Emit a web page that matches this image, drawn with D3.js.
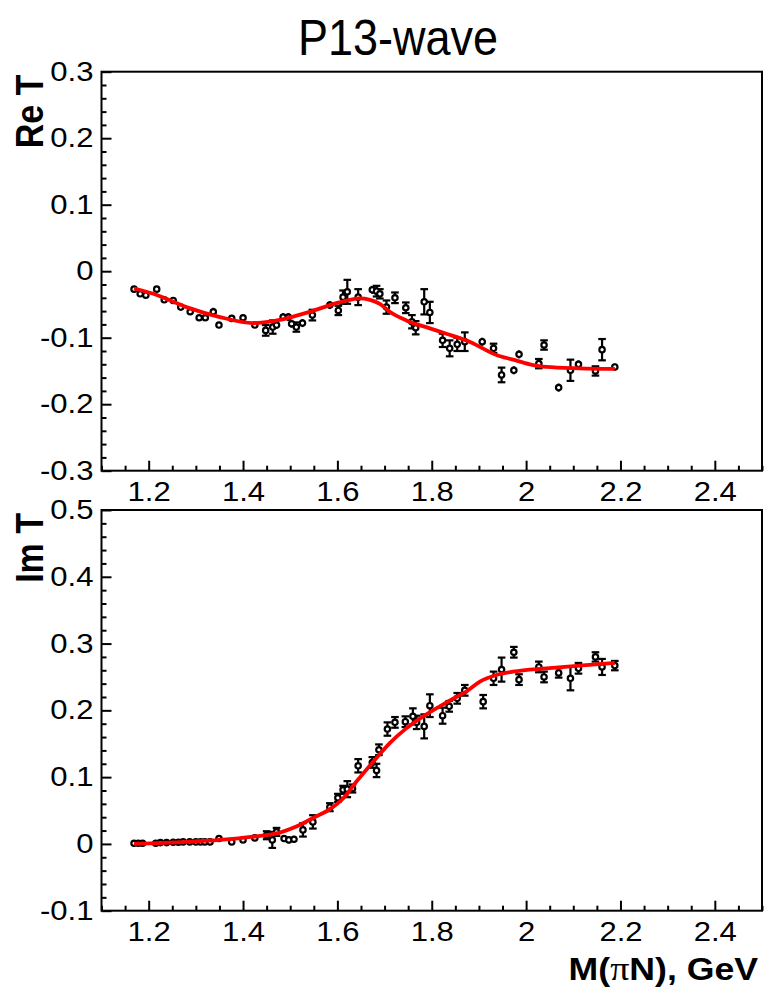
<!DOCTYPE html>
<html>
<head>
<meta charset="utf-8">
<script src="https://cdn.jsdelivr.net/npm/d3@7"></script>
<style>
  body { margin: 0; background: #fff; }
  svg { display: block; font-family: "Liberation Sans", Arial, sans-serif; }
</style>
</head>
<body>
<div class="canvas"></div>
<script>
// ---- data ----
// Re T panel
const reMass = [1.169,1.182,1.194,1.217,1.233,1.252,1.268,1.288,1.307,1.320,1.337,1.349,1.376,1.400,1.425,1.448,
  1.463,1.471,1.485,1.496,1.503,1.513,1.526,1.547,1.584,1.602,1.612,1.621,1.644,1.674,1.683,1.690,1.704,1.722,
  1.745,1.758,1.766,1.784,1.796,1.823,1.838,1.854,1.870,1.907,1.931,1.948,1.974,1.985,2.027,2.038,2.069,2.094,
  2.111,2.147,2.161,2.188];
const reVal = [-0.027,-0.034,-0.036,-0.027,-0.043,-0.044,-0.054,-0.061,-0.070,-0.070,-0.061,-0.081,-0.071,-0.070,
  -0.081,-0.089,-0.084,-0.081,-0.069,-0.069,-0.079,-0.084,-0.078,-0.066,-0.051,-0.059,-0.039,-0.031,-0.039,-0.028,
  -0.030,-0.034,-0.054,-0.040,-0.055,-0.076,-0.085,-0.046,-0.062,-0.104,-0.116,-0.110,-0.106,-0.106,-0.116,-0.156,
  -0.149,-0.125,-0.139,-0.111,-0.175,-0.149,-0.140,-0.150,-0.118,-0.144];
const reErr = [0.003,0.003,0.003,0.003,0.003,0.003,0.003,0.003,0.003,0.003,0.006,0.004,0.004,0.004,0.004,0.008,
  0.010,0.006,0.006,0.006,0.006,0.007,0.006,0.008,0.006,0.007,0.010,0.018,0.012,0.006,0.008,0.007,0.010,0.008,
  0.008,0.010,0.010,0.019,0.016,0.010,0.012,0.010,0.014,0.006,0.007,0.011,0.006,0.006,0.007,0.007,0.006,0.016,
  0.006,0.007,0.016,0.005];
const reFitMass = [1.169,1.210,1.280,1.351,1.421,1.457,1.492,1.542,1.598,1.626,1.647,1.669,1.690,1.711,1.746,
  1.796,1.831,1.880,1.937,1.972,2.008,2.043,2.113,2.188];
const reFitVal = [-0.026,-0.034,-0.054,-0.069,-0.078,-0.076,-0.071,-0.061,-0.048,-0.043,-0.041,-0.043,-0.049,
  -0.061,-0.074,-0.086,-0.094,-0.106,-0.126,-0.133,-0.140,-0.144,-0.146,-0.147];

// Im T panel
const imMass = [1.169,1.178,1.187,1.215,1.225,1.238,1.252,1.263,1.273,1.287,1.300,1.310,1.319,1.330,1.349,1.376,
  1.400,1.425,1.450,1.462,1.471,1.487,1.497,1.508,1.527,1.548,1.584,1.601,1.612,1.621,1.632,1.644,1.674,1.683,
  1.688,1.706,1.722,1.744,1.760,1.768,1.784,1.796,1.823,1.837,1.854,1.870,1.909,1.931,1.948,1.974,1.985,2.027,
  2.038,2.069,2.094,2.111,2.147,2.161,2.188];
const imVal = [0.001,0.001,0.001,0.001,0.002,0.002,0.0025,0.0025,0.003,0.003,0.003,0.003,0.003,0.003,0.008,0.003,
  0.006,0.009,0.013,0.006,0.018,0.008,0.006,0.007,0.021,0.033,0.055,0.069,0.081,0.082,0.083,0.117,0.122,0.110,
  0.141,0.172,0.182,0.183,0.191,0.182,0.176,0.207,0.192,0.206,0.218,0.230,0.213,0.248,0.261,0.287,0.246,0.265,
  0.250,0.256,0.248,0.263,0.280,0.265,0.267];
const imErr = [0.002,0.002,0.002,0.002,0.002,0.002,0.002,0.002,0.002,0.002,0.002,0.002,0.002,0.002,0.003,0.003,
  0.003,0.003,0.006,0.012,0.006,0.005,0.005,0.005,0.010,0.010,0.006,0.006,0.006,0.012,0.006,0.010,0.008,0.010,
  0.008,0.010,0.008,0.008,0.012,0.010,0.018,0.017,0.012,0.008,0.008,0.008,0.010,0.010,0.018,0.008,0.008,0.008,
  0.008,0.007,0.018,0.008,0.007,0.012,0.007];
const imFitMass = [1.169,1.280,1.351,1.422,1.478,1.513,1.549,1.584,1.612,1.640,1.676,1.711,1.746,1.782,1.817,
  1.852,1.873,1.902,1.937,1.972,2.043,2.113,2.188];
const imFitVal = [0.000,0.003,0.006,0.011,0.017,0.026,0.039,0.052,0.068,0.093,0.123,0.151,0.173,0.191,0.206,
  0.220,0.228,0.243,0.253,0.258,0.263,0.267,0.271];

// axes
const xTicks = [1.2,1.4,1.6,1.8,2,2.2,2.4];
const reTicks = [-0.3,-0.2,-0.1,0,0.1,0.2,0.3];
const imTicks = [-0.1,0,0.1,0.2,0.3,0.4,0.5];

// ---- drawing ----
const dims = {width: 765, height: 992, left: 101.5, right: 762};
const stretch = 1.15;   // labels in the picture are a bit wider than tall

const svg = d3.select('.canvas').append('svg')
  .attr('width', dims.width)
  .attr('height', dims.height);

const x = d3.scaleLinear().domain([1.1, 2.5]).range([dims.left, dims.right]);
const fmt = d => String(+d.toFixed(2));

svg.append('text')
  .attr('transform', `translate(398,55) scale(0.9,1)`)
  .attr('text-anchor', 'middle')
  .attr('font-size', 50)
  .text('P13-wave');

const drawPanel = (p) => {
  const y = d3.scaleLinear().domain(p.domain).range([p.bottom, p.top]);
  const g = svg.append('g');

  // minor ticks
  const yMinor = d3.range(p.domain[0], p.domain[1] + 1e-9, 0.02).filter(v => Math.abs(v * 10 - Math.round(v * 10)) > 1e-6);
  const xMinor = d3.range(1.1, 2.5 + 1e-9, 0.05).filter(v => Math.abs(v * 5 - Math.round(v * 5)) > 1e-6);

  g.append('g').attr('transform', `translate(${dims.left},0)`)
    .call(d3.axisLeft(y).tickValues(yMinor).tickSize(-5).tickFormat(''))
    .call(a => a.select('.domain').remove());
  g.append('g').attr('transform', `translate(0,${p.bottom})`)
    .call(d3.axisBottom(x).tickValues(xMinor).tickSize(-5).tickFormat(''))
    .call(a => a.select('.domain').remove());

  // major ticks + labels
  const yAxis = g.append('g').attr('transform', `translate(${dims.left},0)`)
    .call(d3.axisLeft(y).tickValues(p.ticks).tickSize(-10).tickPadding(7).tickFormat(fmt))
    .call(a => a.select('.domain').remove());
  const xAxis = g.append('g').attr('transform', `translate(0,${p.bottom})`)
    .call(d3.axisBottom(x).tickValues(xTicks).tickSize(-10).tickPadding(11).tickFormat(fmt))
    .call(a => a.select('.domain').remove());

  [yAxis, xAxis].forEach(a => {
    a.selectAll('text')
      .attr('font-size', 27)
      .attr('font-family', '"Liberation Sans", Arial, sans-serif')
      .attr('fill', '#000')
      .attr('transform', `scale(${stretch},1)`);
  });
  g.selectAll('.tick line').attr('stroke', '#000').attr('stroke-width', 2);

  // frame
  g.append('rect')
    .attr('x', dims.left).attr('y', p.top)
    .attr('width', dims.right - dims.left).attr('height', p.bottom - p.top)
    .attr('fill', 'none').attr('stroke', '#000').attr('stroke-width', 2);

  // y title
  g.append('text')
    .attr('transform', `translate(43,${p.top + 3}) rotate(-90) scale(1,${stretch})`)
    .attr('text-anchor', 'end')
    .attr('font-size', 34)
    .attr('font-weight', 'bold')
    .text(p.title);

  // points with error bars
  const pts = p.mass.map((m, i) => ({m, v: p.val[i], e: p.err[i]}));
  const bars = g.append('g').attr('stroke', '#000').attr('stroke-width', 2.2);
  bars.selectAll('line.err').data(pts).enter().append('line')
    .attr('class', 'err')
    .attr('x1', d => x(d.m)).attr('x2', d => x(d.m))
    .attr('y1', d => y(d.v - d.e)).attr('y2', d => y(d.v + d.e));
  ['lo', 'hi'].forEach(side => {
    bars.selectAll(`line.cap-${side}`).data(pts.filter(d => y(d.v - d.e) - y(d.v + d.e) > 8)).enter().append('line')
      .attr('class', `cap-${side}`)
      .attr('x1', d => x(d.m) - 3.8).attr('x2', d => x(d.m) + 3.8)
      .attr('y1', d => y(side === 'lo' ? d.v - d.e : d.v + d.e))
      .attr('y2', d => y(side === 'lo' ? d.v - d.e : d.v + d.e));
  });
  g.append('g').selectAll('circle').data(pts).enter().append('circle')
    .attr('cx', d => x(d.m)).attr('cy', d => y(d.v))
    .attr('r', 2.7)
    .attr('fill', '#fff').attr('stroke', '#000').attr('stroke-width', 2.2);

  // fit curve
  const line = d3.line()
    .x(d => x(d[0])).y(d => y(d[1]))
    .curve(d3.curveMonotoneX);
  g.append('path')
    .datum(p.fitMass.map((m, i) => [m, p.fitVal[i]]))
    .attr('d', line)
    .attr('fill', 'none').attr('stroke', '#ff0000').attr('stroke-width', 3.8);
};

drawPanel({top: 71.7, bottom: 470.7, domain: [-0.3, 0.3], ticks: reTicks, title: 'Re T',
  mass: reMass, val: reVal, err: reErr, fitMass: reFitMass, fitVal: reFitVal});
drawPanel({top: 510, bottom: 910.7, domain: [-0.1, 0.5], ticks: imTicks, title: 'Im T',
  mass: imMass, val: imVal, err: imErr, fitMass: imFitMass, fitVal: imFitVal});

// x axis title
const xt = svg.append('text')
  .attr('transform', `translate(758,980) scale(${stretch},1)`)
  .attr('text-anchor', 'end')
  .attr('font-size', 31)
  .attr('font-weight', 'bold');
xt.append('tspan').text('M(');
xt.append('tspan').attr('font-family', '"Liberation Serif", serif').attr('font-weight', 'normal').attr('font-size', 33).text('π');
xt.append('tspan').text('N), GeV');
</script>
</body>
</html>
